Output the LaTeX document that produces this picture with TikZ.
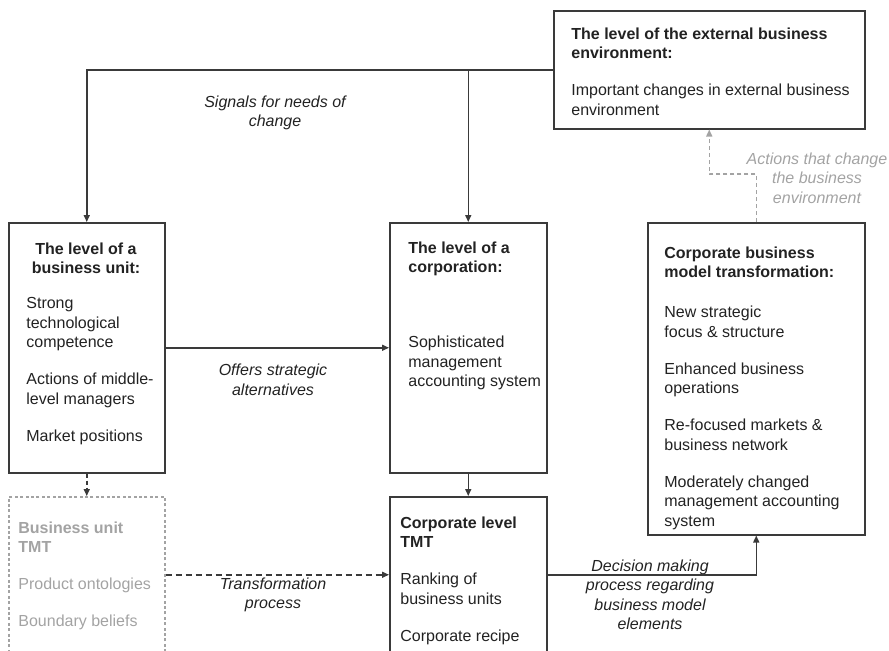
\documentclass[tikz,border=0pt]{standalone}
\usepackage{fontspec}
\setmainfont{Liberation Sans}
\usetikzlibrary{arrows.meta}

\definecolor{edgegray}{HTML}{3A3A3A}
\definecolor{inkgray}{HTML}{222222}
\definecolor{fadegray}{HTML}{A3A3A3}
\newcommand{\pgap}{\\[8.75pt]}

\begin{document}
\begin{tikzpicture}[x=0.5pt, y=-0.5pt,
      every node/.style = {font=\fontsize{8}{9.75}\selectfont, text=inkgray},
      panel/.style = {draw=edgegray, line width=0.75pt, anchor=north west, inner sep=0pt},
      fadepanel/.style = {panel, draw=fadegray, dash pattern=on 1.5pt off 1.2pt},
      words/.style = {anchor=north west, align=left, inner sep=0pt},
      note/.style = {align=center, inner sep=0pt, font=\fontsize{8}{9.75}\selectfont\itshape},
      flow/.style = {draw=edgegray, line width=0.75pt, -{Triangle[length=3.5pt,width=3pt]}},
      fadeflow/.style = {flow, draw=fadegray, dash pattern=on 2pt off 1.5pt}]
  \path[use as bounding box, clip] (0,0) rectangle (889,650);
  % boxes
  \node[panel, minimum width=155.5pt, minimum height=59pt] (env) at (553,10) {};
  \node[panel, minimum width=78pt, minimum height=125pt] (bu) at (8,222) {};
  \node[panel, minimum width=78.5pt, minimum height=125pt] (corp) at (389,222) {};
  \node[panel, minimum width=108.5pt, minimum height=156pt] (bm) at (647,222) {};
  \node[fadepanel, minimum width=78pt, minimum height=78pt] (butmt) at (8,496) {};
  \node[panel, minimum width=78.5pt, minimum height=78pt] (ctmt) at (389,496) {};
  % box texts
  \node[words] (envtxt) at (571,27) {\textbf{The level of the external business}\\\textbf{environment:}\pgap
      Important changes in external business\\environment};
  \node[anchor=north, align=center, inner sep=0pt] (buhead) at (86,242) {\textbf{The level of a}\\\textbf{business unit:}};
  \node[words] (bubody) at (26,297) {Strong\\technological\\competence\pgap
      Actions of middle-\\level managers\pgap Market positions};
  \node[words] (corptxt) at (408,241) {\textbf{The level of a}\\\textbf{corporation:}\\[27.75pt]
      Sophisticated\\management\\accounting system};
  \node[words] (bmtxt) at (664,246) {\textbf{Corporate business}\\\textbf{model transformation:}\\[10.25pt]
      New strategic\\focus \& structure\pgap Enhanced business\\operations\pgap
      Re-focused markets \&\\business network\pgap Moderately changed\\management accounting\\system};
  \node[words, text=fadegray] (butmtxt) at (18,521) {\textbf{Business unit}\\\textbf{TMT}\pgap
      Product ontologies\pgap Boundary beliefs};
  \node[words] (ctmtxt) at (400,516) {\textbf{Corporate level}\\\textbf{TMT}\pgap
      Ranking of\\business units\pgap Corporate recipe};
  % connector labels
  \node[note] (signals) at (275,113) {Signals for needs of\\change};
  \node[note] (offers) at (273,380) {Offers strategic\\alternatives};
  \node[note] (transf) at (273,595) {Transformation\\process};
  \node[note] (decide) at (650,595) {Decision making\\process regarding\\business model\\elements};
  \node[note, text=fadegray] (actions) at (817,178) {Actions that change\\the business\\environment};
  % connectors
  \draw[flow] (env.west) -| (bu.north);
  \draw[flow] (env.west -| corp.north) -- (corp.north);
  \draw[flow] (bu.east) -- (corp.west);
  \draw[flow] (corp.south) -- (ctmt.north);
  \draw[flow, dash pattern=on 2pt off 1.5pt] (bu.south) -- (butmt.north);
  \draw[flow, dash pattern=on 3pt off 2pt] (butmt.east) -- (ctmt.west);
  \draw[flow] (ctmt.east) -| (bm.south);
  \path (bm.north) ++(0,-48) coordinate (turn);
  \draw[fadeflow] (bm.north) -- (turn) -| (env.south);
\end{tikzpicture}
\end{document}
